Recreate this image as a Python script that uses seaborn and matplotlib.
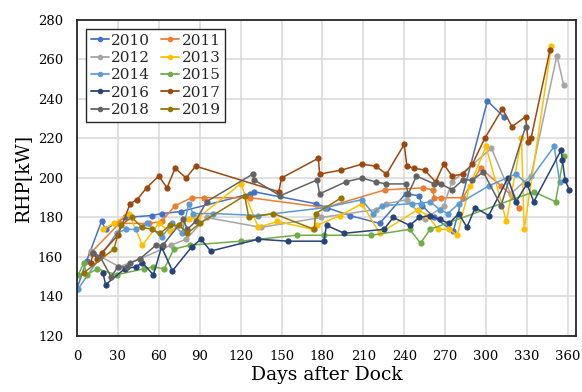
import matplotlib
matplotlib.use("Agg")
import matplotlib.pyplot as plt
import seaborn as sns
import pandas as pd

# Days after dock and required horsepower [kW] for each docking year
days_2010 = [0, 7, 18, 21, 35, 55, 62, 76, 127, 130, 175, 183, 200, 222, 241, 251, 253, 262, 276, 301, 313]
rhp_2010 = [144, 158, 178, 174, 180, 181, 182, 183, 192, 193, 187, 185, 181, 177, 192, 191, 186, 180, 173, 239, 231]

days_2011 = [10, 31, 53, 62, 72, 84, 93, 127, 182, 226, 254, 261, 262, 267, 283, 296, 311, 319, 324]
rhp_2011 = [162, 177, 177, 178, 186, 190, 190, 190, 185, 194, 195, 194, 190, 190, 190, 205, 196, 191, 185]

days_2012 = [10, 31, 46, 69, 80, 95, 135, 179, 219, 227, 242, 255, 269, 275, 304, 318, 333, 352, 357]
rhp_2012 = [163, 155, 159, 166, 169, 180, 175, 180, 184, 187, 189, 179, 186, 198, 215, 192, 201, 262, 247]

days_2013 = [19, 27, 38, 48, 60, 68, 82, 89, 120, 133, 147, 173, 176, 193, 209, 222, 250, 257, 265, 273, 279, 288, 300, 315, 326, 328, 348]
rhp_2013 = [174, 177, 182, 166, 177, 173, 179, 180, 197, 175, 178, 174, 176, 181, 187, 172, 184, 181, 174, 174, 171, 196, 216, 178, 220, 174, 267]

days_2014 = [1, 29, 36, 43, 51, 62, 70, 77, 82, 85, 100, 133, 182, 209, 217, 224, 246, 252, 259, 266, 272, 280, 302, 322, 330, 350, 354]
rhp_2014 = [144, 172, 174, 174, 177, 170, 177, 172, 187, 182, 182, 181, 185, 189, 182, 186, 187, 187, 188, 184, 182, 187, 196, 202, 197, 216, 198]

days_2015 = [1, 5, 7, 15, 29, 49, 56, 64, 71, 83, 120, 161, 181, 216, 244, 252, 259, 335, 351, 357]
rhp_2015 = [151, 157, 151, 154, 151, 154, 155, 154, 164, 166, 168, 171, 171, 171, 174, 167, 174, 193, 188, 211]

days_2016 = [19, 21, 35, 43, 48, 56, 62, 70, 84, 91, 98, 133, 155, 181, 183, 196, 225, 232, 244, 251, 259, 266, 273, 280, 286, 292, 302, 316, 322, 330, 335, 355, 356, 358, 361]
rhp_2016 = [152, 146, 154, 155, 157, 151, 165, 153, 165, 169, 163, 169, 168, 168, 176, 172, 174, 180, 176, 180, 181, 179, 177, 182, 175, 185, 181, 200, 188, 197, 188, 214, 209, 199, 194]

days_2017 = [10, 12, 15, 18, 30, 39, 44, 51, 60, 66, 72, 80, 87, 148, 150, 177, 178, 194, 209, 219, 227, 240, 242, 247, 255, 263, 269, 275, 283, 290, 299, 312, 319, 329, 331, 333, 347]
rhp_2017 = [157, 162, 159, 162, 171, 187, 189, 195, 201, 195, 205, 200, 206, 193, 200, 210, 202, 204, 207, 206, 202, 217, 206, 205, 204, 198, 207, 201, 202, 207, 220, 235, 226, 231, 218, 220, 265]

days_2018 = [12, 17, 25, 30, 37, 39, 46, 58, 63, 78, 81, 87, 95, 129, 130, 149, 176, 178, 197, 209, 219, 227, 241, 243, 249, 262, 267, 275, 283, 290, 298, 311, 329]
rhp_2018 = [162, 160, 150, 155, 155, 157, 159, 166, 166, 179, 174, 178, 188, 202, 199, 191, 199, 192, 198, 200, 198, 197, 197, 192, 201, 197, 197, 194, 199, 199, 203, 186, 226]

days_2019 = [5, 27, 32, 40, 48, 55, 61, 68, 75, 81, 90, 123, 126, 144, 174, 175, 194]
rhp_2019 = [152, 164, 176, 180, 175, 174, 172, 176, 176, 172, 177, 191, 180, 182, 174, 182, 190]

years = ["2010", "2011", "2012", "2013", "2014", "2015", "2016", "2017", "2018", "2019"]
all_days = [days_2010, days_2011, days_2012, days_2013, days_2014,
            days_2015, days_2016, days_2017, days_2018, days_2019]
all_rhp = [rhp_2010, rhp_2011, rhp_2012, rhp_2013, rhp_2014,
           rhp_2015, rhp_2016, rhp_2017, rhp_2018, rhp_2019]

x_ticks = list(range(0, 361, 30))
y_ticks = list(range(120, 281, 20))

colors = ["#4472C4", "#ED7D31", "#A5A5A5", "#FFC000", "#5B9BD5",
          "#70AD47", "#264478", "#9E480E", "#636363", "#997300"]

rows = []
for yr, ds, vs in zip(years, all_days, all_rhp):
    for d, v in zip(ds, vs):
        rows.append({"year": yr, "day": d, "rhp": v})
df = pd.DataFrame(rows)

sns.set_theme(style="whitegrid")
plt.rcParams["font.family"] = ["DejaVu Serif"]

fig = plt.figure(figsize=(5.82, 3.92), dpi=100)
ax = fig.add_axes([0.1323, 0.1429, 0.8574, 0.8061])

sns.lineplot(data=df, x="day", y="rhp", hue="year", hue_order=years,
             palette=colors, estimator=None, sort=False, marker="o",
             markersize=4.5, markeredgewidth=0, linewidth=1.1, ax=ax)

ax.set_xlim(0, 366)
ax.set_ylim(120, 280)
ax.set_xticks(x_ticks)
ax.set_yticks(y_ticks)
ax.tick_params(axis="both", length=0, labelsize=9.5, colors="black", pad=10)
ax.grid(True, color="#D9D9D9", linewidth=1.1)
ax.set_axisbelow(True)
for sp in ax.spines.values():
    sp.set_visible(True)
    sp.set_color("#262626")
    sp.set_linewidth(1.3)

ax.set_xlabel("Days after Dock", fontsize=13.5, color="black", labelpad=2)
ax.set_ylabel("RHP[kW]", fontsize=13.5, color="black", labelpad=4)

# Legend entries read row by row: 2010 2011 / 2012 2013 / ...
handles, labels = ax.get_legend_handles_labels()
lookup = dict(zip(labels, handles))
order = years[0::2] + years[1::2]
leg = ax.legend([lookup[y] for y in order], order, loc="upper left", ncol=2,
                fontsize=11, frameon=True, fancybox=False, edgecolor="#262626",
                framealpha=1, handlelength=1.2, handletextpad=0.15,
                columnspacing=0.7, labelspacing=0.22, borderpad=0.3,
                borderaxespad=0.6)
leg.get_frame().set_linewidth(1.0)
for h in leg.get_lines():
    h.set_linewidth(1.3)
    h.set_markersize(4)

fig.savefig("out.png", dpi=100)
